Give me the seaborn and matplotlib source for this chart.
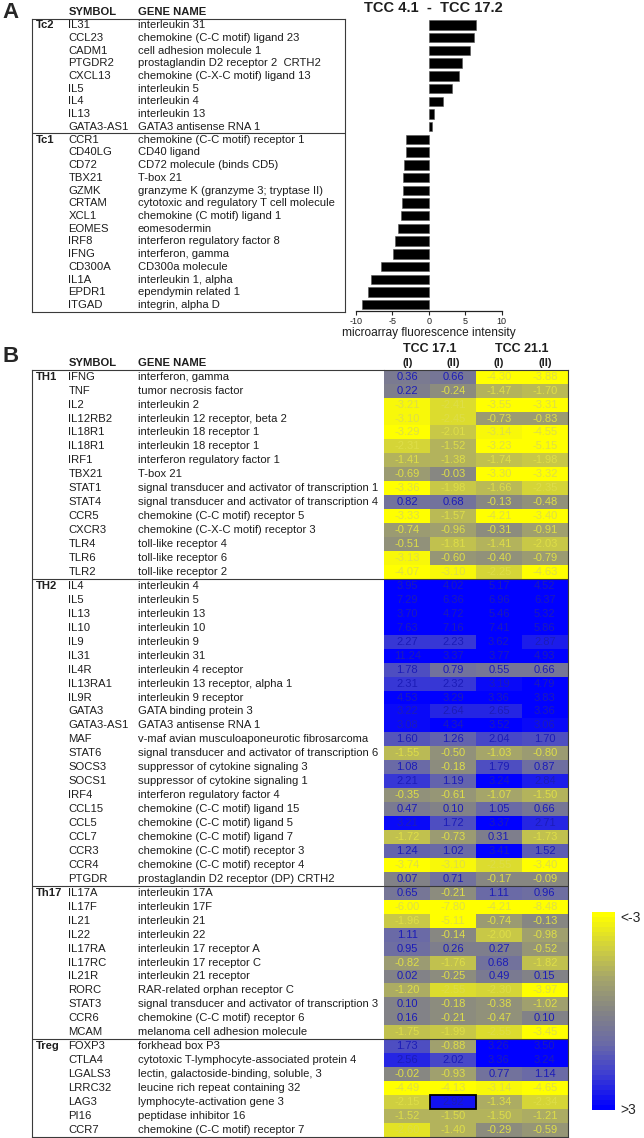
import numpy as np
import pandas as pd
import seaborn as sns
import matplotlib.pyplot as plt
from matplotlib.colors import LinearSegmentedColormap
from matplotlib.patches import Rectangle

# ---- panel A data: TCC 4.1 - TCC 17.2 difference ----
a_symbols = ["IL31", "CCL23", "CADM1", "PTGDR2", "CXCL13", "IL5", "IL4", "IL13", "GATA3-AS1",
             "CCR1", "CD40LG", "CD72", "TBX21", "GZMK", "CRTAM", "XCL1", "EOMES", "IRF8",
             "IFNG", "CD300A", "IL1A", "EPDR1", "ITGAD"]
a_genes = ["interleukin 31", "chemokine (C-C motif) ligand 23", "cell adhesion molecule 1",
           "prostaglandin D2 receptor 2  CRTH2", "chemokine (C-X-C motif) ligand 13",
           "interleukin 5", "interleukin 4", "interleukin 13", "GATA3 antisense RNA 1",
           "chemokine (C-C motif) receptor 1", "CD40 ligand", "CD72 molecule (binds CD5)",
           "T-box 21", "granzyme K (granzyme 3; tryptase II)",
           "cytotoxic and regulatory T cell molecule", "chemokine (C motif) ligand 1",
           "eomesodermin", "interferon regulatory factor 8", "interferon, gamma",
           "CD300a molecule", "interleukin 1, alpha", "ependymin related 1", "integrin, alpha D"]
a_values = [6.5, 6.2, 5.7, 4.5, 4.1, 3.2, 1.9, 0.7, 0.4,
            -3.1, -3.2, -3.4, -3.5, -3.6, -3.7, -3.8, -4.3, -4.6, -4.9, -6.5, -7.9, -8.3, -9.2]
a_groups = {"Tc2": 0, "Tc1": 9}

# ---- panel B data ----
b_symbols = ["IFNG", "TNF", "IL2", "IL12RB2", "IL18R1", "IL18R1", "IRF1", "TBX21", "STAT1",
             "STAT4", "CCR5", "CXCR3", "TLR4", "TLR6", "TLR2",
             "IL4", "IL5", "IL13", "IL10", "IL9", "IL31", "IL4R", "IL13RA1", "IL9R", "GATA3",
             "GATA3-AS1", "MAF", "STAT6", "SOCS3", "SOCS1", "IRF4", "CCL15", "CCL5", "CCL7",
             "CCR3", "CCR4", "PTGDR",
             "IL17A", "IL17F", "IL21", "IL22", "IL17RA", "IL17RC", "IL21R", "RORC", "STAT3",
             "CCR6", "MCAM",
             "FOXP3", "CTLA4", "LGALS3", "LRRC32", "LAG3", "PI16", "CCR7"]
b_genes = ["interferon, gamma", "tumor necrosis factor", "interleukin 2",
           "interleukin 12 receptor, beta 2", "interleukin 18 receptor 1",
           "interleukin 18 receptor 1", "interferon regulatory factor 1", "T-box 21",
           "signal transducer and activator of transcription 1",
           "signal transducer and activator of transcription 4",
           "chemokine (C-C motif) receptor 5", "chemokine (C-X-C motif) receptor 3",
           "toll-like receptor 4", "toll-like receptor 6", "toll-like receptor 2",
           "interleukin 4", "interleukin 5", "interleukin 13", "interleukin 10", "interleukin 9",
           "interleukin 31", "interleukin 4 receptor", "interleukin 13 receptor, alpha 1",
           "interleukin 9 receptor", "GATA binding protein 3", "GATA3 antisense RNA 1",
           "v-maf avian musculoaponeurotic fibrosarcoma",
           "signal transducer and activator of transcription 6",
           "suppressor of cytokine signaling 3", "suppressor of cytokine signaling 1",
           "interferon regulatory factor 4", "chemokine (C-C motif) ligand 15",
           "chemokine (C-C motif) ligand 5", "chemokine (C-C motif) ligand 7",
           "chemokine (C-C motif) receptor 3", "chemokine (C-C motif) receptor 4",
           "prostaglandin D2 receptor (DP) CRTH2",
           "interleukin 17A", "interleukin 17F", "interleukin 21", "interleukin 22",
           "interleukin 17 receptor A", "interleukin 17 receptor C", "interleukin 21 receptor",
           "RAR-related orphan receptor C", "signal transducer and activator of transcription 3",
           "chemokine (C-C motif) receptor 6", "melanoma cell adhesion molecule",
           "forkhead box P3", "cytotoxic T-lymphocyte-associated protein 4",
           "lectin, galactoside-binding, soluble, 3", "leucine rich repeat containing 32",
           "lymphocyte-activation gene 3", "peptidase inhibitor 16",
           "chemokine (C-C motif) receptor 7"]
b_groups = {"TH1": 0, "TH2": 15, "Th17": 37, "Treg": 48}

tcc171_I = [0.36, 0.22, -3.21, -3.10, -3.29, -2.31, -1.41, -0.69, -3.36, 0.82, -3.33, -0.74, -0.51, -3.13, -4.07,
            3.95, 7.29, 3.70, 7.63, 2.27, 11.24, 1.78, 2.31, 4.53, 3.22, 3.08, 1.60, -1.55, 1.08, 2.21, -0.35,
            0.47, 3.21, -1.72, 1.24, -3.74, 0.07,
            0.65, -6.00, -1.96, 1.11, 0.95, -0.82, 0.02, -1.20, 0.10, 0.16, -1.75,
            1.73, 2.56, -0.02, -4.49, -2.15, -1.52, -2.60]
tcc171_II = [0.66, -0.24, -2.41, -2.45, -2.01, -1.52, -1.38, -0.03, -1.98, 0.68, -1.57, -0.96, -1.81, -0.60, -3.10,
             4.02, 6.36, 4.72, 7.16, 2.23, 3.37, 0.79, 2.32, 3.29, 2.64, 4.34, 1.26, -0.50, -0.18, 1.19, -0.61,
             0.10, 1.72, -0.73, 1.02, -3.10, 0.71,
             -0.21, -7.80, -5.11, -0.14, 0.26, -1.76, -0.25, -2.55, -0.18, -0.21, -1.99,
             -0.88, 2.02, -0.93, -4.13, 2.92, -1.50, -1.40]
tcc211_I = [-4.30, -1.47, -3.55, -0.73, -3.14, -3.23, -1.74, -3.30, -1.66, -0.13, -4.21, -0.31, -1.41, -0.40, -2.25,
            5.17, 6.96, 5.46, 7.41, 3.62, 3.77, 0.55, 3.19, 3.36, 2.65, 3.52, 2.04, -1.03, 1.79, 3.24, -1.07,
            1.05, 3.37, 0.31, 3.41, -2.55, -0.17,
            1.11, -4.21, -0.74, -2.00, 0.27, 0.68, 0.49, -2.30, -0.38, -0.47, -2.55,
            3.26, 3.36, 0.77, -3.14, -1.34, -1.50, -0.29]
tcc211_II = [-3.88, -1.70, -3.31, -0.83, -4.55, -5.15, -1.98, -3.32, -2.35, -0.48, -3.40, -0.91, -2.03, -0.79, -4.63,
             4.52, 6.37, 5.32, 5.86, 2.87, 4.93, 0.66, 4.79, 3.83, 3.36, 3.06, 1.70, -0.80, 0.87, 2.84, -1.50,
             0.66, 2.71, -1.73, 1.52, -3.40, -0.09,
             0.96, -8.48, -0.13, -0.98, -0.52, -1.82, 0.15, -3.97, -1.02, 0.10, -3.45,
             3.50, 3.24, 1.14, -4.65, -2.34, -1.21, -0.59]
b_columns = ["TCC 17.1 (I)", "TCC 17.1 (II)", "TCC 21.1 (I)", "TCC 21.1 (II)"]
highlight = ("LAG3", "TCC 17.1 (II)")

sns.set_theme(style="white")
plt.rcParams['font.family'] = ['Liberation Sans', 'DejaVu Sans']
plt.rcParams['axes.unicode_minus'] = False

W, H = 644, 1138
fig = plt.figure(figsize=(W / 100, H / 100), dpi=100)


def px_axes(x0, y0, x1, y1):
    return fig.add_axes([x0 / W, 1 - y1 / H, (x1 - x0) / W, (y1 - y0) / H])


TXT = '#1e1e1e'
LINE = '#3a3a3a'
FS = 8.1

# ---------------- panel A ----------------
fig.text(2 / W, 1 - 12 / H, 'A', fontsize=16, weight='bold', va='center', ha='left')

ax_ta = px_axes(32.3, 18.7, 345, 311.5)
ax_ta.set_xlim(0, 312.7)
ax_ta.set_ylim(len(a_symbols) - 0.5, -0.5)
ax_ta.set_xticks([])
ax_ta.set_yticks([])
for s in ax_ta.spines.values():
    s.set_visible(True)
    s.set_color(LINE)
    s.set_linewidth(0.8)
ax_ta.text(36, -1.0, 'SYMBOL', fontsize=FS, weight='bold', va='center', color=TXT)
ax_ta.text(105.4, -1.0, 'GENE NAME', fontsize=FS, weight='bold', va='center', color=TXT)
for i, (sym, gene) in enumerate(zip(a_symbols, a_genes)):
    ax_ta.text(36, i, sym, fontsize=FS, va='center', color=TXT)
    ax_ta.text(105.4, i, gene, fontsize=FS, va='center', color=TXT)
for g, r in a_groups.items():
    ax_ta.text(3.7, r, g, fontsize=FS, weight='bold', va='center', color=TXT)
    if r > 0:
        ax_ta.axhline(r - 0.5, color=LINE, lw=0.8)

df_a = pd.DataFrame({"symbol": a_symbols, "value": a_values})
ax_bar = px_axes(356, 18.7, 501.7, 311)
sns.barplot(data=df_a, x="value", y="symbol", color='black', width=0.74,
            orient='h', ax=ax_bar, saturation=1, linewidth=0.4, edgecolor='#555555')
ax_bar.set_xlim(-10, 10)
ax_bar.set_ylim(len(a_symbols) - 0.5, -0.5)
ax_bar.set_yticks([])
ax_bar.set_ylabel('')
ax_bar.set_xticks([-10, -5, 0, 5, 10])
ax_bar.tick_params(axis='x', direction='out', length=3, width=0.8, labelsize=6.5, pad=1,
                   bottom=True, colors='#222222')
ax_bar.set_xlabel('microarray fluorescence intensity', fontsize=8.6, labelpad=1, color=TXT)
sns.despine(ax=ax_bar, left=True)
ax_bar.spines['bottom'].set_linewidth(0.9)
ax_bar.spines['bottom'].set_color('#222222')
ax_bar.patch.set_alpha(0)
fig.text(433 / W, 1 - 8.5 / H, 'TCC 4.1  -  TCC 17.2', fontsize=10.5, weight='bold',
         ha='center', va='center', color=TXT)

# ---------------- panel B ----------------
fig.text(2 / W, 1 - 357 / H, 'B', fontsize=16, weight='bold', va='center', ha='left')

n_b = len(b_symbols)
y_top, y_bot = 369.7, 1136.9

ax_tb = px_axes(32.3, y_top, 384.3, y_bot)
ax_tb.set_xlim(0, 352)
ax_tb.set_ylim(n_b, 0)
ax_tb.set_xticks([])
ax_tb.set_yticks([])
for k, s in ax_tb.spines.items():
    s.set_visible(k != 'right')
    s.set_color(LINE)
    s.set_linewidth(0.8)
ax_tb.text(36, -0.5, 'SYMBOL', fontsize=FS, weight='bold', va='center', color=TXT)
ax_tb.text(105.4, -0.5, 'GENE NAME', fontsize=FS, weight='bold', va='center', color=TXT)
for i, (sym, gene) in enumerate(zip(b_symbols, b_genes)):
    ax_tb.text(36, i + 0.5, sym, fontsize=FS, va='center', color=TXT)
    ax_tb.text(105.4, i + 0.5, gene, fontsize=FS, va='center', color=TXT)

df_b = pd.DataFrame({b_columns[0]: tcc171_I, b_columns[1]: tcc171_II,
                     b_columns[2]: tcc211_I, b_columns[3]: tcc211_II})

cmap = LinearSegmentedColormap.from_list(
    'yg_b', ['#ffff00', '#d2d23c', '#a5a56a', '#848484', '#6a6aa6', '#3c3cd2', '#0000ff'], N=40)
ax_hm = px_axes(384.3, y_top, 567.7, y_bot)
cax = px_axes(591.7, 911.7, 615, 1110)
sns.heatmap(df_b, cmap=cmap, vmin=-3.4, vmax=3.4, ax=ax_hm, cbar_ax=cax,
            annot=True, fmt='.2f', annot_kws={'fontsize': 8},
            xticklabels=False, yticklabels=False)
for t in ax_hm.texts:
    v = float(t.get_text())
    t.set_color('#1c1cb8' if v >= 0 else '#dede48')
for k, s in ax_hm.spines.items():
    s.set_visible(k != 'left')
    s.set_color(LINE)
    s.set_linewidth(0.8)

r = b_symbols.index(highlight[0])
c = b_columns.index(highlight[1])
ax_hm.add_patch(Rectangle((c, r), 1, 1, fill=False, edgecolor='black', lw=1.3))

for g, r0 in b_groups.items():
    ax_tb.text(3.7, r0 + 0.5, g, fontsize=FS, weight='bold', va='center', color=TXT)
    if r0 > 0:
        ax_tb.axhline(r0, color=LINE, lw=0.8)
        ax_hm.axhline(r0, color=LINE, lw=0.8)

# column headers
for j, col in enumerate(b_columns):
    ax_hm.text(j + 0.5, -0.48, col.split(' ')[-1], fontsize=FS, weight='bold',
               ha='center', va='center', color=TXT)
for j in (0, 2):
    ax_hm.text(j + 1, -1.46, ' '.join(b_columns[j].split(' ')[:2]), fontsize=9,
               weight='bold', ha='center', va='center', color=TXT)

# legend bar: yellow on top
cbar = ax_hm.collections[0].colorbar
cbar.outline.set_visible(False)
cax.invert_yaxis()
cax.set_yticks([])
cax.tick_params(length=0)
cax.text(1.25, 0.97, '<-3', transform=cax.transAxes, fontsize=10, va='center', ha='left')
cax.text(1.25, 0.0, '>3', transform=cax.transAxes, fontsize=10, va='center', ha='left')

fig.savefig('out.png', dpi=100)
